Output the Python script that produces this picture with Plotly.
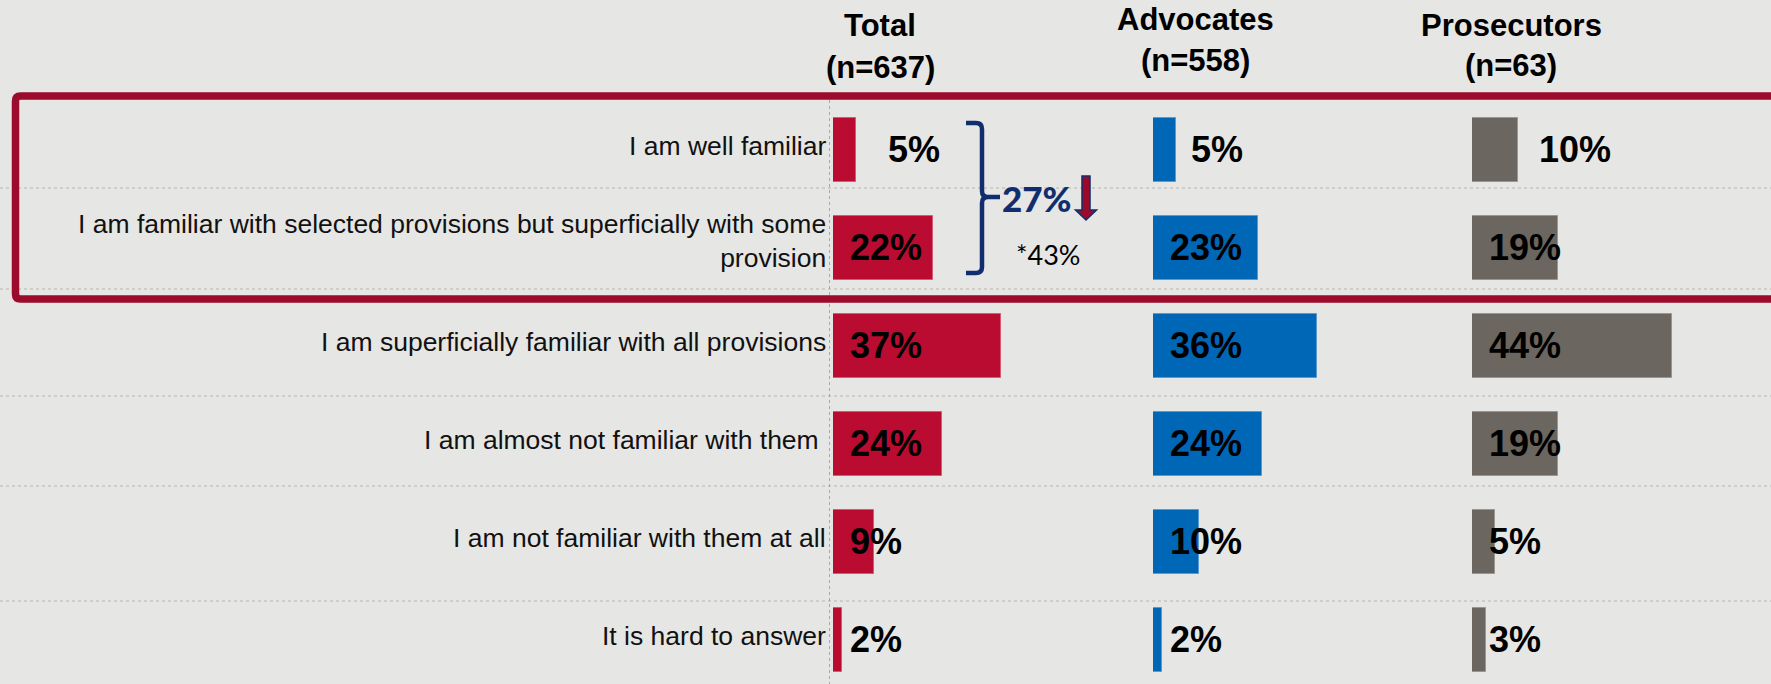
import plotly.graph_objects as go

# ---- data -------------------------------------------------------------
categories = [
    "I am well familiar",
    "I am familiar with selected provisions but superficially with some<br>provision",
    "I am superficially familiar with all provisions",
    "I am almost not familiar with them\u00a0",
    "I am not familiar with them at all",
    "It is hard to answer",
]
groups = ["Total", "Advocates", "Prosecutors"]
sample_sizes = ["(n=637)", "(n=558)", "(n=63)"]
total_pct = [5, 22, 37, 24, 9, 2]
advocates_pct = [5, 23, 36, 24, 10, 2]
prosecutors_pct = [10, 19, 44, 19, 5, 3]
familiar_sum = "27%"
familiar_prev = "*43%"

# ---- geometry / style -------------------------------------------------
W, H = 1771, 684
BG = "#E6E6E4"
ROW0_PX, ROW_PX = 150, 98          # centre of first row, row pitch
PX_PER_PCT = 4.55                  # horizontal scale of every panel
panel_left_px = [833, 1153, 1472]
panel_right_px = [1153, 1472, W]
colors = ["#BA0C30", "#0066B6", "#6B665F"]
edge_colors = ["#D65A73", "#5A9AD0", "#9A958E"]
header_x_px = [880, 1195, 1511]
header_y_px = [(25, 67), (20, 61), (25, 65)]
top_row_shift = [30, 13, 19]       # top row labels sit just past the bar end
inside_shift = 15
NAVY = "#102E6E"
FRAME = "#9C0B2B"
GRID = "#B4B4B2"
FONT = "Liberation Sans, Arial, sans-serif"


def fx(p):
    return p / W


def fy(p):
    return 1 - p / H


y_top = -ROW0_PX / ROW_PX
y_bottom = y_top + H / ROW_PX
rows = list(range(len(categories)))

fig = go.Figure()
series = [total_pct, advocates_pct, prosecutors_pct]
axis_names = ["x", "x2", "x3"]
for k, vals in enumerate(series):
    fig.add_trace(go.Bar(
        x=vals, y=rows, orientation="h", width=0.66,
        marker=dict(color=colors[k], line=dict(color=edge_colors[k], width=1)),
        xaxis=axis_names[k], yaxis="y", showlegend=False, hoverinfo="skip",
    ))

layout_axes = {}
for k in range(3):
    key = "xaxis" if k == 0 else f"xaxis{k + 1}"
    span = panel_right_px[k] - panel_left_px[k]
    layout_axes[key] = dict(
        domain=[fx(panel_left_px[k]), fx(panel_right_px[k])],
        range=[0, span / PX_PER_PCT], anchor="y",
        showgrid=False, zeroline=False, showticklabels=False, showline=False,
        fixedrange=True,
    )

fig.update_layout(
    width=W, height=H, margin=dict(l=0, r=0, t=0, b=0),
    paper_bgcolor=BG, plot_bgcolor=BG, bargap=0,
    yaxis=dict(range=[y_bottom, y_top], showgrid=False, zeroline=False,
               showticklabels=False, showline=False, fixedrange=True),
    **layout_axes,
)

annotations = []

# category labels, right-aligned against the axis line
for i, cat in enumerate(categories):
    annotations.append(dict(
        x=fx(828), y=i, xref="paper", yref="y", text=cat, showarrow=False,
        xanchor="right", yanchor="middle", align="right",
        yshift=7 if "<br>" in cat else 4,
        font=dict(family=FONT, size=26.5, color="#111111"),
    ))

# value labels
for k, vals in enumerate(series):
    for i, v in enumerate(vals):
        first = i == 0
        annotations.append(dict(
            x=v if first else 0, y=i, xref=axis_names[k], yref="y",
            text=f"{v}%", showarrow=False, xanchor="left", yanchor="middle",
            xshift=top_row_shift[k] if first else inside_shift,
            yshift=1,
            font=dict(family=FONT, size=36, color="#000000", weight="bold"),
        ))

# column headers
for k in range(3):
    for txt, ypx in zip([groups[k], sample_sizes[k]], header_y_px[k]):
        annotations.append(dict(
            x=fx(header_x_px[k]), y=fy(ypx), xref="paper", yref="paper",
            text=txt, showarrow=False, xanchor="center", yanchor="middle",
            font=dict(family=FONT, size=31, color="#000000", weight="bold"),
        ))

# combined share of the two "familiar" answers
annotations.append(dict(
    x=fx(1000), y=fy(198), xref="paper", yref="paper", text=familiar_sum,
    showarrow=False, xanchor="left", yanchor="middle",
    font=dict(family="Lato, sans-serif", size=35, color=NAVY, weight=900),
))
annotations.append(dict(
    x=fx(1014), y=fy(254), xref="paper", yref="paper", text=familiar_prev,
    showarrow=False, xanchor="left", yanchor="middle",
    font=dict(family="Lato, sans-serif", size=27, color="#000000"),
))

shapes = []

# dotted row separators
for ypx in [188, 289, 396, 486, 601]:
    shapes.append(dict(
        type="line", xref="paper", yref="paper", x0=0, x1=1,
        y0=fy(ypx), y1=fy(ypx), layer="below",
        line=dict(color=GRID, width=1, dash="dot"),
    ))
# dotted axis line at the start of the first panel
shapes.append(dict(
    type="line", xref="paper", yref="paper", x0=fx(829.5), x1=fx(829.5),
    y0=fy(100), y1=0, layer="below",
    line=dict(color="#A8A8A6", width=1, dash="dot"),
))


def path(points):
    return " ".join(points)


def P(cmd, *xy):
    out = []
    for j in range(0, len(xy), 2):
        out.append(f"{fx(xy[j]):.5f},{fy(xy[j + 1]):.5f}")
    return cmd + " " + " ".join(out)


# highlight frame around the two top rows
r = 5
frame = path([
    P("M", 1790, 96), P("L", 15.5 + r, 96), P("Q", 15.5, 96, 15.5, 96 + r),
    P("L", 15.5, 299 - r), P("Q", 15.5, 299, 15.5 + r, 299), P("L", 1790, 299),
])
shapes.append(dict(type="path", xref="paper", yref="paper", path=frame,
                   line=dict(color=FRAME, width=7.5), layer="above"))

# curly bracket joining the two top rows
bracket = path([
    P("M", 966, 123), P("L", 976, 123), P("Q", 982, 123, 982, 129),
    P("L", 982, 191), P("Q", 982, 197, 988, 197), P("L", 1000, 197),
    P("M", 988, 197), P("Q", 982, 197, 982, 203),
    P("L", 982, 267), P("Q", 982, 273, 976, 273), P("L", 966, 273),
])
shapes.append(dict(type="path", xref="paper", yref="paper", path=bracket,
                   line=dict(color=NAVY, width=4.5), layer="above"))

# downward arrow
arrow = path([
    P("M", 1082, 176), P("L", 1090, 176), P("L", 1090, 210), P("L", 1096.5, 210),
    P("L", 1086, 220), P("L", 1075.5, 210), P("L", 1082, 210), "Z",
])
shapes.append(dict(type="path", xref="paper", yref="paper", path=arrow,
                   fillcolor="#9B0A28", line=dict(color=NAVY, width=1.5),
                   layer="above"))

fig.update_layout(annotations=annotations, shapes=shapes)
fig.write_html("out.html")
